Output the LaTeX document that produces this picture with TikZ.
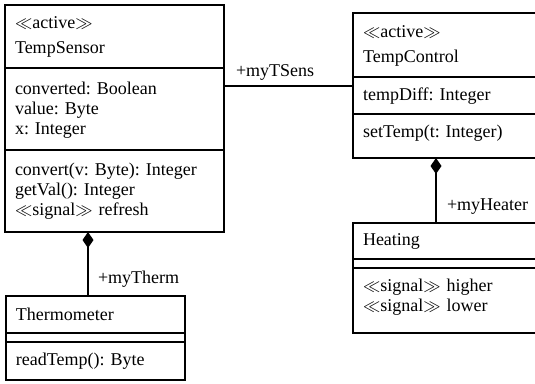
\documentclass[tikz,border=0pt]{standalone}
\usepackage{fontspec}
\setmainfont{Liberation Serif}
\usepackage{tikz}
\usetikzlibrary{positioning,calc,arrows.meta}
\frenchspacing
\newcommand*\sensorwidth{199pt}
\newcommand*\controlwidth{180pt}
\newcommand*\thermowidth{159pt}
\newcommand*\stereo[1]{$\ll$#1$\gg$}
\tikzstyle{compart}=[draw,line width=2pt,inner xsep=10pt,inner ysep=0pt,outer sep=0pt,align=left,text height=23pt,anchor=north west,font=\rmfamily\fontsize{18pt}{20pt}\selectfont]
\tikzstyle{link}=[line width=2pt]
\tikzstyle{comp}=[{Diamond[length=16pt,width=11pt]}-,line width=2pt]
\tikzstyle{role}=[anchor=base west,inner sep=0pt,font=\rmfamily\fontsize{18pt}{20pt}\selectfont]

\begin{document}
\begin{tikzpicture}[x=1pt,y=-1pt]
      \useasboundingbox (0,0) rectangle (535,383);
      \clip (0,0) rectangle (535,383);
      % TempSensor
      \node (ts-name) [compart, text width=\sensorwidth, text depth=40pt] at (5,5) {\stereo{active}\\[5pt]TempSensor};
      \node (ts-attr) [compart, text width=\sensorwidth, text height=26pt, text depth=56pt, below=0pt of ts-name] {converted: Boolean\\value: Byte\\x: Integer};
      \node (ts-meth) [compart, text width=\sensorwidth, text height=25pt, text depth=57pt, below=0pt of ts-attr] {convert(v: Byte): Integer\\getVal(): Integer\\\stereo{signal} refresh};
      % TempControl
      \node (tc-name) [compart, text width=\controlwidth, text height=24pt, text depth=40pt] at (353,13) {\stereo{active}\\[5pt]TempControl};
      \node (tc-attr) [compart, text width=\controlwidth, text depth=14pt, below=0pt of tc-name] {tempDiff: Integer};
      \node (tc-meth) [compart, text width=\controlwidth, text depth=21pt, below=0pt of tc-attr] {setTemp(t: Integer)};
      % Heating
      \node (h-name) [compart, text width=\controlwidth, text height=22pt, text depth=14pt] at (353,223) {Heating};
      \node (h-attr) [compart, text width=\controlwidth, text height=0pt, text depth=9pt, below=0pt of h-name] {};
      \node (h-meth) [compart, text width=\controlwidth, text depth=42pt, below=0pt of h-attr] {\stereo{signal} higher\\\stereo{signal} lower};
      % Thermometer
      \node (th-name) [compart, text width=\thermowidth, text height=24pt, text depth=13pt] at (6,296) {Thermometer};
      \node (th-attr) [compart, text width=\thermowidth, text height=0pt, text depth=9pt, below=0pt of th-name] {};
      \node (th-meth) [compart, text width=\thermowidth, text depth=15pt, below=0pt of th-attr] {readTemp(): Byte};
      % associations
      \coordinate (tsens) at ($(tc-attr.north west)+(0,9)$);
      \coordinate (therm-top) at ($(th-name.north west)+(82,0)$);
      \coordinate (heat-top) at ($(h-name.north west)+(83,0)$);
      \draw[link] (ts-attr.east |- tsens) -- (tsens) node[role, pos=0, xshift=11pt, yshift=10pt] (tsens-lbl) {+myTSens};
      \draw[comp] (ts-meth.south -| therm-top) -- (therm-top) node[role, pos=1, xshift=9pt, yshift=13pt] (therm-lbl) {+myTherm};
      \draw[comp] (tc-meth.south -| heat-top) -- (heat-top) node[role, pos=1, xshift=10pt, yshift=13pt] (heat-lbl) {+myHeater};
    \end{tikzpicture}
\end{document}
